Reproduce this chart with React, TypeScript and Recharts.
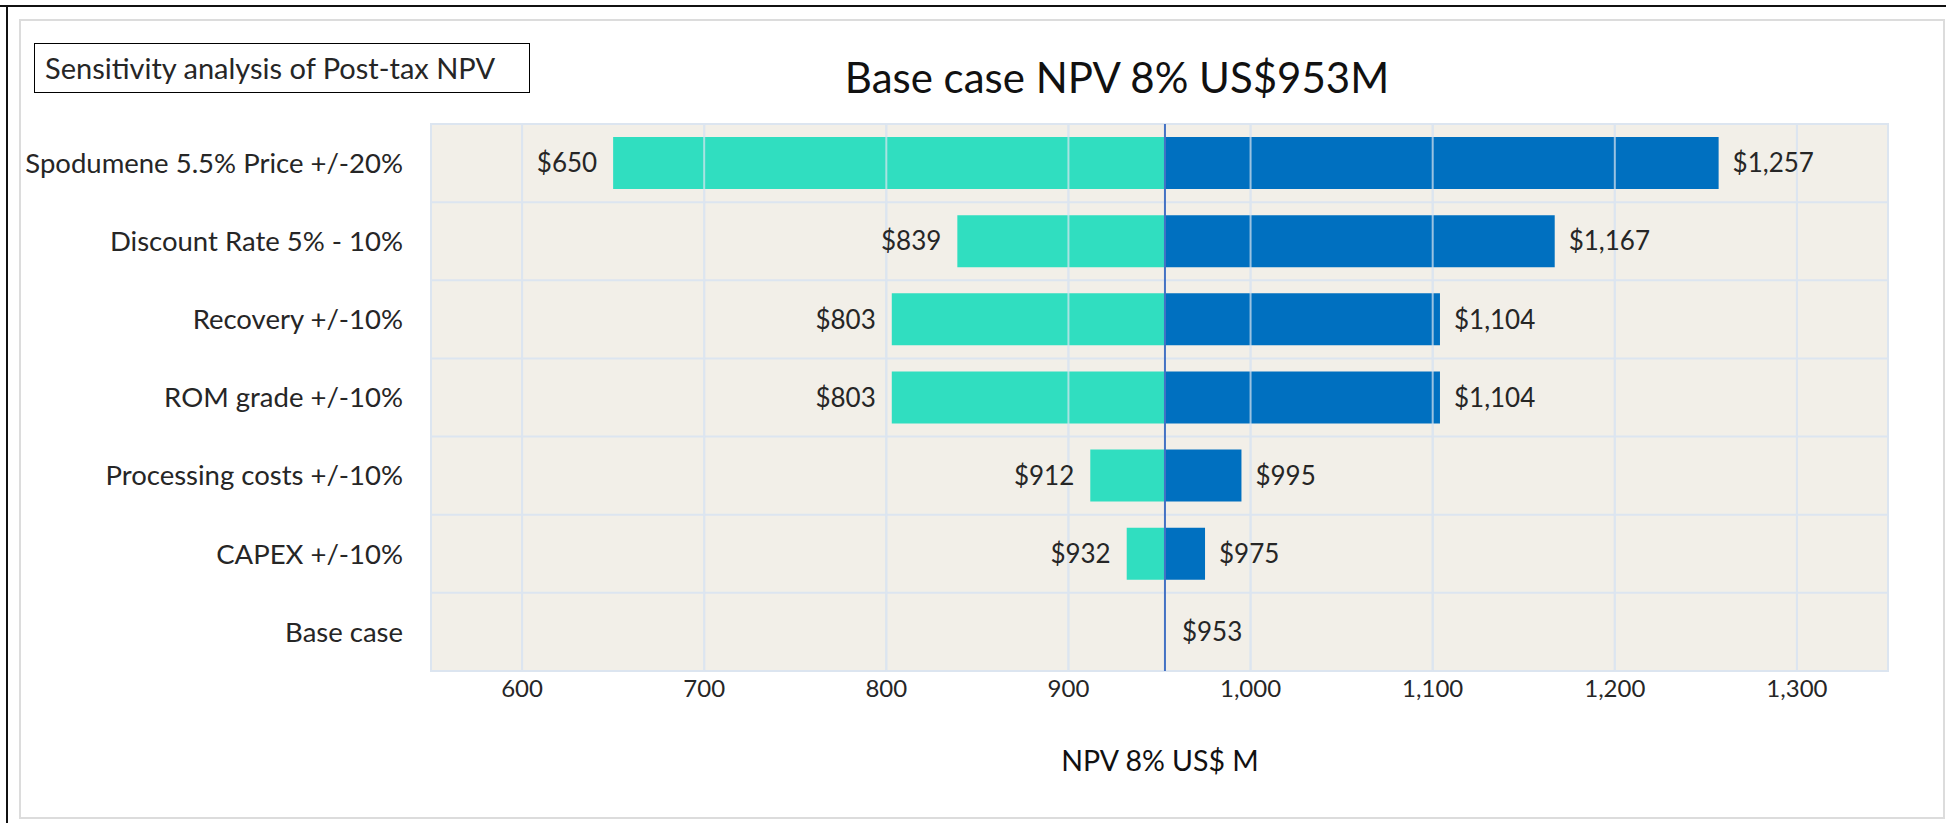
import React from "react";
import {
  BarChart,
  Bar,
  XAxis,
  YAxis,
  CartesianGrid,
  ReferenceLine,
  ReferenceArea,
  LabelList,
} from "recharts";

const CATEGORIES = [
  "Spodumene 5.5% Price +/-20%",
  "Discount Rate 5% - 10%",
  "Recovery +/-10%",
  "ROM grade +/-10%",
  "Processing costs +/-10%",
  "CAPEX +/-10%",
  "Base case",
];
const LOW_NPV = [650, 839, 803, 803, 912, 932, null];
const HIGH_NPV = [1257, 1167, 1104, 1104, 995, 975, null];
const BASE_ONLY = [null, null, null, null, null, null, 953];
const BASE_NPV = 953;
const X_TICKS = [600, 700, 800, 900, 1000, 1100, 1200, 1300];
const X_DOMAIN: [number, number] = [550, 1350];

const FONT = "Lato, 'Open Sans', sans-serif";
const TEXT = "#262626";
const GRID = "#dce5f0";

const chartData = CATEGORIES.map((name, i) => {
  const low = LOW_NPV[i];
  const high = HIGH_NPV[i];
  const base = BASE_ONLY[i];
  return {
    name,
    low,
    high,
    base,
    lowRange: low != null ? [low, BASE_NPV] : null,
    highRange: high != null ? [BASE_NPV, high] : null,
    baseRange: base != null ? [base, base] : null,
  };
});

const money = (v: any) => (v == null ? "" : `$${Number(v).toLocaleString("en-US")}`);

// row separators sit on the band edges, not the band centres
const rowLines = ({ offset }: any) =>
  Array.from({ length: CATEGORIES.length + 1 }, (_, i) => offset.top + (offset.height * i) / CATEGORIES.length);

const labelStyle = { fontSize: 26, fill: TEXT, fontFamily: FONT };

export default function App() {
  return (
    <div
      style={{
        position: "absolute",
        left: 0,
        top: 0,
        width: 1946,
        height: 823,
        background: "#fff",
        fontFamily: FONT,
        color: TEXT,
        overflow: "hidden",
      }}
    >
      {/* frame */}
      <div style={{ position: "absolute", left: 0, top: 5, width: 1946, height: 2, background: "#111" }} />
      <div style={{ position: "absolute", left: 6, top: 5, width: 2, height: 818, background: "#111" }} />
      <div
        style={{
          position: "absolute",
          left: 19,
          top: 19,
          width: 1922,
          height: 796,
          border: "2px solid #dcdcdc",
        }}
      />

      <div
        style={{
          position: "absolute",
          left: 34,
          top: 43,
          width: 484,
          height: 48,
          border: "1.5px solid #000",
          fontSize: 29,
          lineHeight: "48px",
          paddingLeft: 10,
          boxSizing: "content-box",
          whiteSpace: "nowrap",
        }}
      >
        Sensitivity analysis of Post-tax NPV
      </div>

      <div
        style={{
          position: "absolute",
          left: 1117,
          top: 52,
          transform: "translateX(-50%)",
          fontSize: 42,
          lineHeight: "50px",
          whiteSpace: "nowrap",
          color: "#111",
        }}
      >
        Base case NPV 8% US$953M
      </div>

      <div
        style={{
          position: "absolute",
          left: 1160,
          top: 743,
          transform: "translateX(-50%)",
          fontSize: 28.5,
          lineHeight: "34px",
          whiteSpace: "nowrap",
          color: "#111",
        }}
      >
        NPV 8% US$ M
      </div>

      <div style={{ position: "absolute", left: 0, top: 0 }}>
        <BarChart
          width={1946}
          height={823}
          data={chartData}
          layout="vertical"
          margin={{ top: 124, right: 58, bottom: 112, left: 0 }}
          barSize={52}
          barGap={-52}
        >
          <CartesianGrid
            fill="#f2efe8"
            stroke={GRID}
            strokeWidth={2}
            horizontalCoordinatesGenerator={rowLines}
          />
          <XAxis
            type="number"
            domain={X_DOMAIN}
            ticks={X_TICKS}
            allowDataOverflow
            tickFormatter={(v) => Number(v).toLocaleString("en-US")}
            tick={{ fontSize: 24, fill: TEXT, fontFamily: FONT }}
            tickLine={false}
            axisLine={false}
            tickSize={0}
            tickMargin={9}
            height={40}
          />
          <YAxis
            type="category"
            dataKey="name"
            width={431}
            interval={0}
            tick={{ fontSize: 27.5, fill: TEXT, fontFamily: FONT }}
            tickLine={false}
            axisLine={false}
            tickSize={0}
            tickMargin={28}
          />
          <Bar dataKey="lowRange" fill="#30dec0" isAnimationActive={false}>
            <LabelList dataKey="low" position="left" offset={16} formatter={money} style={labelStyle} />
          </Bar>
          <Bar dataKey="highRange" fill="#0070c0" isAnimationActive={false}>
            <LabelList dataKey="high" position="right" offset={14} formatter={money} style={labelStyle} />
          </Bar>
          <Bar dataKey="baseRange" fill="none" minPointSize={1} isAnimationActive={false}>
            <LabelList dataKey="base" position="right" offset={16} formatter={money} style={labelStyle} />
          </Bar>
          <CartesianGrid
            fill="none"
            stroke={GRID}
            strokeOpacity={0.7}
            strokeWidth={2}
            horizontal={false}
            zIndex={400}
          />
          <ReferenceArea x1={X_DOMAIN[0]} x2={X_DOMAIN[1]} fill="none" stroke={GRID} strokeWidth={2} />
          <ReferenceLine x={BASE_NPV} stroke="#4472c4" strokeWidth={2} />
        </BarChart>
      </div>
    </div>
  );
}
